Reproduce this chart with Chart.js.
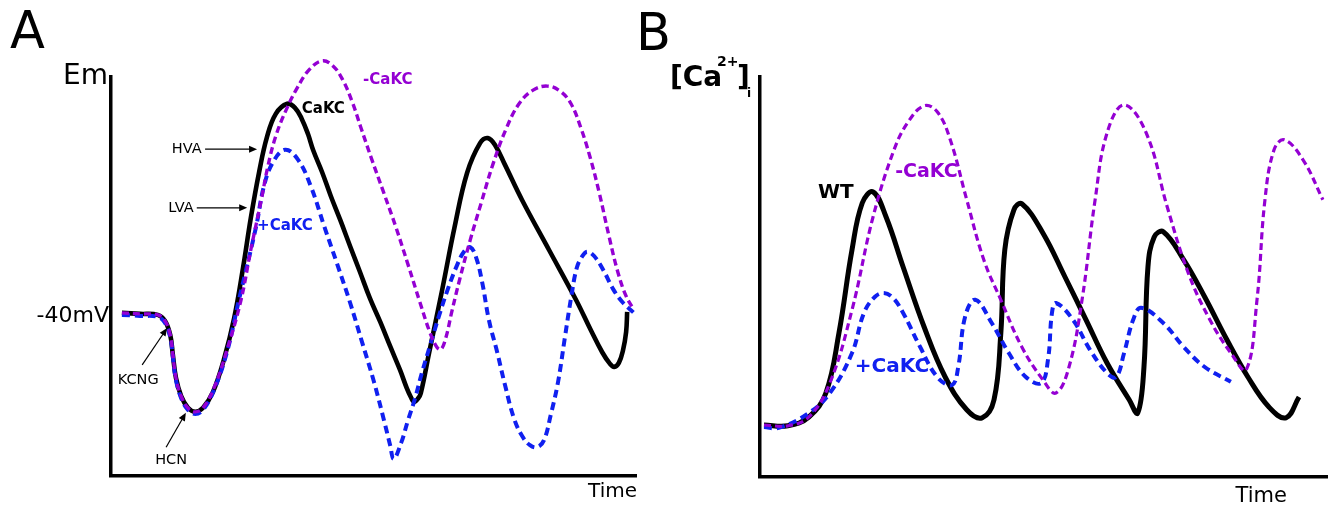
<!DOCTYPE html>
<html>
<head>
<meta charset="utf-8">
<script src="https://cdn.jsdelivr.net/npm/chart.js@4.4.0/dist/chart.umd.min.js"></script>
<style>
  html, body { margin: 0; padding: 0; background: #fff; }
  body { width: 1328px; height: 505px; position: relative; overflow: hidden; }
  canvas { position: absolute; top: 0; }
  #panelA { left: 0; }
  #panelB { left: 630px; }
</style>
</head>
<body>
<canvas id="panelA" width="650" height="505"></canvas>
<canvas id="panelB" width="698" height="505"></canvas>
<script>
// Panel A - membrane potential (mV) over time (arbitrary units)
const timeA_CaKC = [2.1, 5.6, 9.0, 10.4, 11.4, 11.9, 12.5, 13.5, 14.8, 16.2, 17.7, 19.6, 21.7, 23.7, 25.4,
  26.9, 28.5, 30.0, 31.7, 33.9, 35.4, 36.7, 37.9, 38.9, 40.6, 42.3, 44.1, 46.0, 47.9, 49.8,
  51.8, 53.7, 55.6, 56.9, 57.7, 58.3, 59.1, 59.6, 61.2, 63.7, 66.1, 68.5, 71.0, 72.5, 73.9,
  75.8, 79.1, 84.3, 89.5, 92.3, 94.5, 96.0, 96.8, 97.7, 98.5, 99.1, 99.3];
const emA_CaKC = [-39.7, -39.9, -40.1, -41.3, -44.1, -48.0, -52.6, -56.2, -58.5, -59.3, -58.5, -55.4, -49.0, -40.7, -30.8,
  -20.9, -11.8, -4.9, -0.3, 1.7, 0.9, -1.3, -4.3, -7.5, -11.8, -16.6, -21.3, -26.5, -31.6, -36.8,
  -41.5, -46.3, -51.0, -54.6, -56.4, -57.3, -56.6, -55.6, -47.6, -35.2, -22.7, -12.0, -6.1, -5.1, -6.5,
  -10.4, -17.4, -27.3, -37.2, -43.1, -47.5, -49.8, -50.4, -49.6, -47.1, -43.5, -39.5];

const timeA_minusCaKC = [2.1, 5.6, 9.0, 10.4, 11.4, 11.9, 12.5, 13.5, 14.8, 16.2, 17.7, 19.8, 22.3, 25.0, 26.9,
  28.9, 30.2, 31.7, 33.7, 35.8, 38.1, 40.6, 42.7, 44.6, 46.4, 48.1, 50.2, 52.5, 54.8, 57.1,
  59.4, 61.4, 62.7, 63.5, 64.4, 65.6, 67.1, 69.1, 71.2, 73.5, 76.0, 78.5, 81.2, 83.9, 86.4,
  88.5, 90.4, 92.2, 93.9, 95.8, 97.5, 99.1, 100.6];
const emA_minusCaKC = [-39.7, -39.9, -40.1, -41.3, -44.1, -48.0, -52.6, -56.2, -58.5, -59.3, -58.5, -54.6, -47.1, -37.2, -27.2,
  -17.4, -10.6, -4.7, 0.5, 4.8, 8.4, 10.2, 9.2, 6.4, 2.1, -3.1, -9.4, -16.0, -22.7, -30.0,
  -37.5, -43.7, -46.5, -46.9, -44.7, -39.3, -33.0, -25.3, -18.0, -10.2, -3.3, 1.7, 4.4, 5.2, 4.2,
  1.7, -3.1, -9.0, -15.8, -24.5, -31.6, -36.4, -39.1];

const timeA_plusCaKC = [2.1, 5.6, 9.0, 10.4, 11.4, 11.9, 12.5, 13.5, 14.8, 16.2, 17.7, 19.8, 22.3, 24.6, 27.9,
  29.4, 31.1, 33.5, 36.0, 38.5, 41.0, 43.5, 46.0, 48.3, 50.6, 52.5, 53.7, 54.4, 55.8, 57.1,
  58.5, 59.8, 61.4, 63.1, 64.8, 66.6, 67.9, 69.1, 70.2, 71.4, 72.7, 74.3, 75.8, 77.5, 79.1,
  80.6, 82.0, 83.3, 84.6, 86.0, 87.3, 88.5, 89.6, 90.6, 91.6, 92.9, 94.7, 96.6, 98.5, 100.6];
const emA_plusCaKC = [-40.1, -40.3, -40.5, -41.7, -44.5, -48.4, -53.0, -56.6, -58.9, -59.7, -58.9, -55.0, -47.5, -37.2, -22.7,
  -14.7, -10.0, -7.4, -9.4, -14.8, -22.5, -30.0, -37.7, -45.5, -53.4, -60.9, -65.9, -68.6, -65.5, -61.1,
  -56.6, -51.6, -46.1, -40.3, -35.0, -30.2, -27.6, -26.7, -28.6, -33.6, -41.1, -47.5, -54.0, -60.5, -64.1,
  -65.9, -66.3, -64.9, -59.9, -53.4, -44.7, -36.8, -30.8, -28.6, -27.6, -28.4, -31.2, -35.0, -37.7, -39.7];

// Panel B - intracellular calcium (arbitrary units) over time
const timeB_WT = [0.7, 4.9, 8.6, 11.6, 13.9, 16.2, 18.0, 19.9, 22.2, 25.2, 28.9, 32.6, 36.4, 39.1, 41.2,
  42.4, 43.1, 44.7, 46.1, 49.8, 53.7, 57.4, 61.1, 65.0, 66.5, 67.6, 68.3, 69.4, 71.0, 74.6,
  78.3, 82.2, 85.9, 89.6, 92.6, 94.9];
const caB_WT = [13.0, 12.8, 15.0, 21.0, 36.0, 56.8, 68.5, 71.3, 65.0, 52.5, 37.5, 25.0, 16.8, 14.8, 19.3,
  36.0, 56.8, 66.8, 68.3, 61.0, 50.0, 39.3, 28.5, 19.3, 16.0, 27.5, 52.5, 60.0, 61.3, 54.3,
  45.0, 34.3, 25.0, 17.5, 14.8, 20.0];

const timeB_minusCaKC = [0.7, 4.9, 8.6, 12.3, 16.2, 19.9, 23.6, 26.1, 28.9, 31.2, 33.5, 36.4, 39.4, 42.4, 46.1,
  49.8, 52.1, 54.4, 56.7, 59.0, 61.1, 64.1, 68.0, 71.7, 75.4, 79.2, 82.9, 85.6, 87.5, 88.9,
  90.5, 92.3, 95.6, 99.1];
const caB_minusCaKC = [13.0, 12.8, 15.0, 23.5, 41.8, 65.0, 81.8, 88.8, 92.8, 91.3, 84.3, 69.3, 54.3, 44.3, 32.5,
  24.3, 21.0, 27.5, 44.3, 69.3, 86.0, 93.0, 86.0, 67.5, 51.0, 39.3, 31.0, 26.8, 44.3, 69.3,
  81.8, 84.3, 79.3, 69.3];

const timeB_plusCaKC = [0.7, 3.3, 8.6, 12.3, 16.2, 18.3, 20.2, 21.8, 23.4, 25.2, 28.2, 31.2, 33.8, 34.9, 36.1,
  37.9, 40.8, 43.8, 46.8, 49.5, 50.7, 51.4, 52.1, 55.1, 58.1, 61.1, 62.7, 64.1, 65.7, 67.1,
  71.0, 74.6, 78.3, 82.9];
const caB_plusCaKC = [12.5, 12.3, 16.0, 21.0, 31.0, 41.0, 45.0, 46.0, 44.8, 41.0, 32.5, 25.0, 23.0, 27.5, 40.0,
  44.3, 38.5, 31.0, 25.0, 23.5, 29.3, 41.0, 43.5, 39.3, 31.8, 26.0, 25.0, 31.0, 39.3, 42.3,
  38.5, 32.5, 27.5, 23.8];

const BLACK = '#000000';
const PURPLE = '#9400d3';
const BLUE = '#1020f0';
const FONT = '"DejaVu Sans", sans-serif';

// annotation text + arrows per panel (t/v in data units, pos() for captions around the frame)
const NOTES = {
  panelA: {
    arrows: [
      { from: [18.1, -7.3], to: [28.1, -7.3] },
      { from: [16.5, -18.9], to: [26.2, -18.9] },
      { from: [6.0, -50.0], to: [10.8, -42.7] },
      { from: [10.6, -66.3], to: [14.4, -59.5] }
    ],
    texts: [
      { text: 'A', font: '51px ' + FONT, base: 'alphabetic', pos: () => [10, 48] },
      { text: 'Em', font: '28px ' + FONT, base: 'alphabetic', align: 'right', pos: (a) => [a.left - 3, a.top + 7] },
      { text: '-40mV', font: '22px ' + FONT, base: 'alphabetic', align: 'right',
        pos: (a, sx, sy) => [a.left - 2, sy.getPixelForValue(-40) + 8] },
      { text: 'Time', font: '20px ' + FONT, base: 'alphabetic', align: 'right', pos: (a) => [a.right + 1, a.bottom + 21] },
      { text: 'CaKC', font: 'bold 15px ' + FONT, color: BLACK, t: 36.7, v: 0.7 },
      { text: '-CaKC', font: 'bold 15px ' + FONT, color: PURPLE, t: 48.5, v: 6.4 },
      { text: '+CaKC', font: 'bold 15px ' + FONT, color: BLUE, t: 28.1, v: -22.5 },
      { text: 'HVA', font: '14.5px ' + FONT, t: 11.7, v: -7.3 },
      { text: 'LVA', font: '14.5px ' + FONT, t: 11.0, v: -18.9 },
      { text: 'KCNG', font: '14.5px ' + FONT, t: 1.3, v: -53.0 },
      { text: 'HCN', font: '14.5px ' + FONT, t: 8.5, v: -68.8 }
    ]
  },
  panelB: {
    arrows: [],
    texts: [
      { text: 'B', font: '51px ' + FONT, base: 'alphabetic', pos: () => [6, 50] },
      { text: '[Ca', font: 'bold 28px ' + FONT, base: 'alphabetic', pos: (a) => [a.left - 90, a.top + 9] },
      { text: '2+', font: 'bold 14px ' + FONT, base: 'alphabetic', pos: (a) => [a.left - 43, a.top - 11] },
      { text: ']', font: 'bold 28px ' + FONT, base: 'alphabetic', pos: (a) => [a.left - 23, a.top + 9] },
      { text: 'i', font: 'bold 12px ' + FONT, base: 'alphabetic', pos: (a) => [a.left - 13, a.top + 20] },
      { text: 'Time', font: '21px ' + FONT, base: 'alphabetic', align: 'right', pos: (a) => [a.right - 41, a.bottom + 25] },
      { text: 'WT', font: 'bold 20px ' + FONT, color: BLACK, t: 10.2, v: 71.0 },
      { text: '-CaKC', font: 'bold 19px ' + FONT, color: PURPLE, t: 23.8, v: 76.3 },
      { text: '+CaKC', font: 'bold 20px ' + FONT, color: BLUE, t: 16.7, v: 27.5 }
    ]
  }
};

const pts = (xs, ys) => xs.map((x, i) => ({ x: x, y: ys[i] }));

function trace(data, color, width, dash, order) {
  return {
    data: data,
    borderColor: color,
    borderWidth: width,
    borderDash: dash,
    borderCapStyle: 'butt',
    borderJoinStyle: 'round',
    pointRadius: 0,
    tension: 0.4,
    fill: false,
    clip: false,
    order: order
  };
}

const notesPlugin = {
  id: 'notes',
  afterDatasetsDraw(chart) {
    const notes = NOTES[chart.canvas.id];
    const { ctx, chartArea } = chart;
    const sx = chart.scales.x, sy = chart.scales.y;
    ctx.save();
    notes.arrows.forEach(a => {
      const x1 = sx.getPixelForValue(a.from[0]), y1 = sy.getPixelForValue(a.from[1]);
      const x2 = sx.getPixelForValue(a.to[0]), y2 = sy.getPixelForValue(a.to[1]);
      const ang = Math.atan2(y2 - y1, x2 - x1);
      const c = Math.cos(ang), s = Math.sin(ang);
      ctx.strokeStyle = '#000';
      ctx.fillStyle = '#000';
      ctx.lineWidth = 1.2;
      ctx.beginPath();
      ctx.moveTo(x1, y1);
      ctx.lineTo(x2 - 6 * c, y2 - 6 * s);
      ctx.stroke();
      ctx.beginPath();
      ctx.moveTo(x2, y2);
      ctx.lineTo(x2 - 8 * c + 3.5 * s, y2 - 8 * s - 3.5 * c);
      ctx.lineTo(x2 - 8 * c - 3.5 * s, y2 - 8 * s + 3.5 * c);
      ctx.closePath();
      ctx.fill();
    });
    notes.texts.forEach(n => {
      ctx.font = n.font;
      ctx.fillStyle = n.color || '#000';
      ctx.textAlign = n.align || 'left';
      ctx.textBaseline = n.base || 'middle';
      let px, py;
      if (n.pos) {
        const p = n.pos(chartArea, sx, sy);
        px = p[0]; py = p[1];
      } else {
        px = sx.getPixelForValue(n.t);
        py = sy.getPixelForValue(n.v);
      }
      ctx.fillText(n.text, px, py);
    });
    ctx.restore();
  }
};

function axisScale(min, max) {
  return {
    type: 'linear',
    min: min,
    max: max,
    grid: { display: false, drawTicks: false },
    ticks: { display: false },
    border: { display: true, color: '#000', width: 3.5 }
  };
}

function baseOptions(padding, xRange, yRange) {
  return {
    responsive: false,
    animation: false,
    layout: { autoPadding: false, padding: padding },
    scales: { x: axisScale(xRange[0], xRange[1]), y: axisScale(yRange[0], yRange[1]) },
    plugins: { legend: { display: false }, tooltip: { enabled: false } }
  };
}

new Chart(document.getElementById('panelA'), {
  type: 'line',
  data: {
    datasets: [
      trace(pts(timeA_minusCaKC, emA_minusCaKC), PURPLE, 3.4, [7, 4], 1),
      trace(pts(timeA_plusCaKC, emA_plusCaKC), BLUE, 4, [8, 5], 2),
      trace(pts(timeA_CaKC, emA_CaKC), BLACK, 4.6, [], 3)
    ]
  },
  options: baseOptions({ left: 111, right: 14, top: 77, bottom: 29 }, [0, 101], [-72, 7]),
  plugins: [notesPlugin]
});

new Chart(document.getElementById('panelB'), {
  type: 'line',
  data: {
    datasets: [
      trace(pts(timeB_minusCaKC, caB_minusCaKC), PURPLE, 3.2, [7, 4], 1),
      trace(pts(timeB_plusCaKC, caB_plusCaKC), BLUE, 4, [8, 5], 2),
      trace(pts(timeB_WT, caB_WT), BLACK, 5, [], 3)
    ]
  },
  options: baseOptions({ left: 130, right: 0, top: 77, bottom: 28 }, [0, 100], [0, 100]),
  plugins: [notesPlugin]
});
</script>
</body>
</html>
